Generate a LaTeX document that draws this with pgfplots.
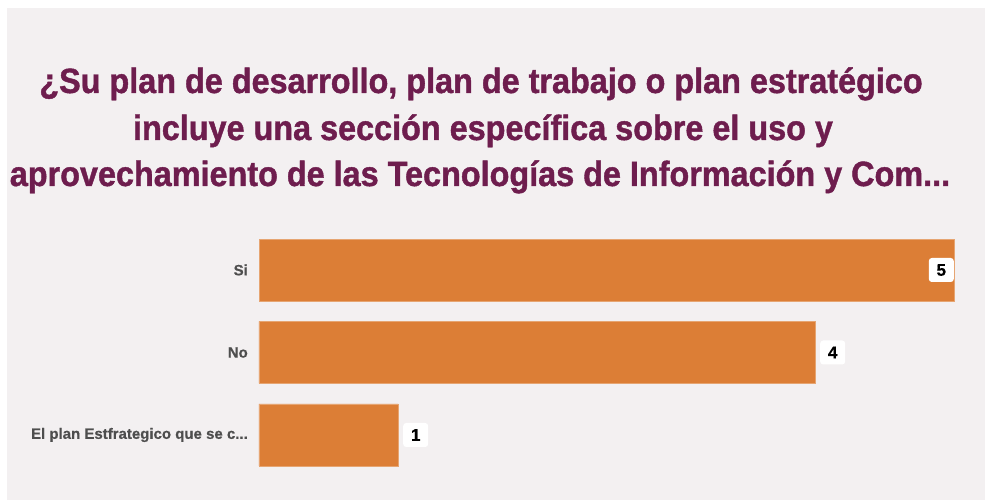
\documentclass[border=0pt]{standalone}
\usepackage{pgfplots}
\pgfplotsset{compat=1.18}
\usepackage{fontspec}
\setmainfont{Liberation Sans}
\newfontfamily\condfont[FakeStretch=0.925,BoldFeatures={FakeBold=1.2}]{Liberation Sans}
\newfontfamily\labfont[FakeStretch=1.0,BoldFeatures={FakeBold=0.5}]{Liberation Sans}
\definecolor{panel}{HTML}{F3F0F1}
\definecolor{titlecol}{HTML}{6E1D4E}
\definecolor{barorange}{HTML}{DC7E36}
\definecolor{labgray}{HTML}{4E4E4E}
\begin{document}
\begin{tikzpicture}
\useasboundingbox (0,0) rectangle (985pt,502pt);
\fill[white] (0,0) rectangle (985pt,502pt);
\fill[panel] (7pt,2pt) rectangle (985pt,494pt);
\node[anchor=base, text=titlecol, font=\condfont\bfseries\fontsize{35}{40}\selectfont, inner sep=0pt] at (481pt,409pt) {¿Su plan de desarrollo, plan de trabajo o plan estratégico};
\node[anchor=base, text=titlecol, font=\condfont\bfseries\fontsize{35}{40}\selectfont, inner sep=0pt] at (483pt,362pt) {incluye una sección específica sobre el uso y};
\node[anchor=base, text=titlecol, font=\condfont\bfseries\fontsize{35}{40}\selectfont, inner sep=0pt] at (480pt,316pt) {aprovechamiento de las Tecnologías de Información y Com...};
\begin{axis}[
  at={(259pt,25.75pt)}, anchor=south west,
  scale only axis, width=695pt, height=247.5pt,
  xmin=0, xmax=5, ymin=-0.5, ymax=2.5,
  y dir=reverse, enlargelimits=false, clip=false,
  axis line style={draw=none}, tick style={draw=none},
  xtick=\empty, ytick={0,1,2},
  yticklabels={Si,No,{El plan Estfrategico que se c{...}}},
  yticklabel style={text=labgray, font=\labfont\bfseries\fontsize{15}{17}\selectfont, anchor=east, inner sep=0pt, xshift=-11pt},
  point meta=x,
  nodes near coords={\pgfmathprintnumber[assume math mode=true]{\pgfplotspointmeta}},
  every node near coord/.append style={font=\labfont\bfseries\fontsize{17}{19}\selectfont, text=black, fill=white, rounded corners=3pt, inner sep=0pt, minimum width=25pt, minimum height=24pt},
]
\addplot[xbar, bar shift=0pt, bar width=62pt, fill=barorange, draw=barorange!70!white, every node near coord/.append style={anchor=west, xshift=5pt}] coordinates {(4,1) (1,2)};
\addplot[xbar, bar shift=0pt, bar width=62pt, fill=barorange, draw=barorange!70!white, every node near coord/.append style={anchor=east, xshift=0pt}] coordinates {(5,0)};
\end{axis}
\end{tikzpicture}
\end{document}
